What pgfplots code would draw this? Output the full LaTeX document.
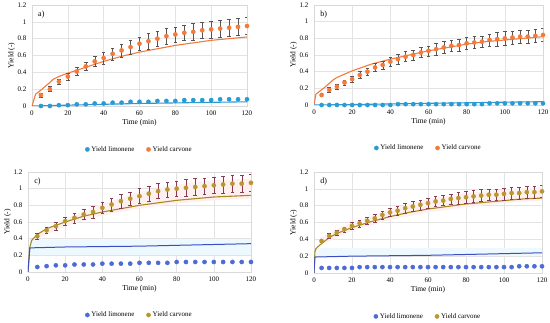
\documentclass[border=0pt]{standalone}
\usepackage{pgfplots}
\pgfplotsset{compat=1.18}
\usepackage{pgfplotstable}
\usepackage{fontspec}
\setmainfont{Liberation Serif}
\definecolor{corange}{HTML}{F47A3C}
\definecolor{cblue}{HTML}{2A9AD4}
\definecolor{cblue2}{HTML}{4C6BD6}
\definecolor{cline2}{HTML}{3A4EC2}
\definecolor{colive}{HTML}{B8972E}
\definecolor{colivel}{HTML}{A8891E}
\definecolor{cmaroon}{HTML}{8A3A55}
\definecolor{cgrayerr}{HTML}{555555}

\pgfplotstableread{
x y e
5 0.13 0.02
10 0.20 0.03
15 0.29 0.03
20 0.35 0.04
25 0.41 0.05
30 0.47 0.05
35 0.53 0.06
40 0.57 0.07
45 0.62 0.07
50 0.66 0.08
55 0.70 0.08
60 0.74 0.08
65 0.77 0.09
70 0.80 0.09
75 0.83 0.09
80 0.85 0.09
85 0.87 0.09
90 0.88 0.10
95 0.90 0.10
100 0.91 0.10
105 0.92 0.10
110 0.93 0.10
115 0.94 0.10
120 0.95 0.10
}\carvA
\pgfplotstableread{
x y
5 0.00
10 0.00
15 0.01
20 0.01
25 0.02
30 0.02
35 0.03
40 0.03
45 0.04
50 0.04
55 0.05
60 0.05
65 0.05
70 0.06
75 0.06
80 0.06
85 0.07
90 0.07
95 0.07
100 0.07
105 0.08
110 0.08
115 0.08
120 0.08
}\limA
\pgfplotstableread{
x y e
4 0.12 0.02
8 0.18 0.03
12 0.22 0.03
16 0.27 0.03
20 0.31 0.04
24 0.36 0.04
28 0.40 0.04
32 0.45 0.05
36 0.48 0.05
40 0.52 0.05
44 0.55 0.06
48 0.58 0.06
52 0.60 0.06
56 0.63 0.06
60 0.65 0.06
64 0.67 0.07
68 0.69 0.07
72 0.71 0.07
76 0.72 0.07
80 0.74 0.07
84 0.75 0.07
88 0.76 0.07
92 0.78 0.07
96 0.79 0.08
100 0.80 0.08
104 0.81 0.08
108 0.82 0.08
112 0.82 0.08
116 0.83 0.08
120 0.84 0.08
}\carvB
\pgfplotstableread{
x y
4 0.00
8 0.00
12 0.00
16 0.00
20 0.00
24 0.00
28 0.00
32 0.00
36 0.00
40 0.00
44 0.01
48 0.01
52 0.01
56 0.01
60 0.01
64 0.01
68 0.01
72 0.01
76 0.01
80 0.01
84 0.01
88 0.01
92 0.02
96 0.02
100 0.02
104 0.02
108 0.02
112 0.02
116 0.02
120 0.02
}\limB
\pgfplotstableread{
x y e
5 0.43 0.04
10 0.50 0.04
15 0.55 0.05
20 0.61 0.05
25 0.65 0.06
30 0.69 0.06
35 0.72 0.07
40 0.77 0.07
45 0.81 0.08
50 0.85 0.08
55 0.88 0.08
60 0.91 0.09
65 0.94 0.09
70 0.97 0.09
75 0.99 0.09
80 1.00 0.09
85 1.01 0.10
90 1.02 0.10
95 1.03 0.10
100 1.04 0.10
105 1.05 0.10
110 1.06 0.10
115 1.06 0.10
120 1.07 0.10
}\carvC
\pgfplotstableread{
x y
5 0.06
10 0.07
15 0.08
20 0.08
25 0.09
30 0.09
35 0.09
40 0.10
45 0.10
50 0.10
55 0.10
60 0.11
65 0.11
70 0.11
75 0.11
80 0.12
85 0.12
90 0.12
95 0.12
100 0.12
105 0.12
110 0.12
115 0.12
120 0.12
}\limC
\pgfplotstableread{
x y e
4 0.38 0.02
8 0.44 0.03
12 0.48 0.03
16 0.52 0.03
20 0.56 0.04
24 0.59 0.04
28 0.62 0.04
32 0.65 0.05
36 0.69 0.05
40 0.72 0.05
44 0.74 0.05
48 0.77 0.06
52 0.79 0.06
56 0.81 0.06
60 0.83 0.06
64 0.85 0.06
68 0.86 0.06
72 0.88 0.06
76 0.89 0.07
80 0.90 0.07
84 0.91 0.07
88 0.92 0.07
92 0.93 0.07
96 0.93 0.07
100 0.94 0.07
104 0.95 0.07
108 0.95 0.07
112 0.96 0.07
116 0.96 0.07
120 0.97 0.07
}\carvD
\pgfplotstableread{
x y
4 0.06
8 0.06
12 0.06
16 0.06
20 0.06
24 0.07
28 0.07
32 0.07
36 0.07
40 0.07
44 0.07
48 0.07
52 0.07
56 0.07
60 0.07
64 0.07
68 0.07
72 0.07
76 0.07
80 0.07
84 0.07
88 0.07
92 0.07
96 0.07
100 0.07
104 0.07
108 0.08
112 0.08
116 0.08
120 0.08
}\limD

\pgfplotsset{
 panel/.style={
  scale only axis, xmin=0, xmax=120, ymin=0, ymax=1.2,
  xtick={0,20,...,120}, ytick={0,0.2,...,1.2},
  grid=major, grid style={gray!22, line width=0.5pt},
  axis line style={gray!30}, major tick length=0pt,
  tick label style={font=\fontsize{7}{8}\selectfont},
  /pgf/number format/assume math mode=true,
  yticklabel style={/pgf/number format/fixed},
  xlabel={Time (min)}, ylabel={Yield (-)},
  label style={font=\fontsize{7.5}{9}\selectfont},
  xlabel style={yshift=3pt}, ylabel style={yshift=-4pt},
  xticklabel style={yshift=-1pt}, yticklabel style={xshift=-2pt},
  legend columns=2,
  legend style={draw=none, fill=none, font=\fontsize{7}{8}\selectfont, at={(0.5,-0.43)}, anchor=center,
    /tikz/every even column/.append style={column sep=10pt}},
  legend cell align=left,
  clip=true,
 },
 mkA/.style={only marks, mark=*, mark size=2.1pt, mark options={draw=#1, fill=#1}},
 errA/.style={error bars/.cd, y dir=both, y explicit, error bar style={#1, line width=0.4pt}, error mark options={#1, mark size=1.8pt, line width=0.4pt, rotate=90}},
}

\begin{document}
\begin{tikzpicture}
\path[use as bounding box] (0pt,0pt) rectangle (550pt,323pt);

% ---- a)
\begin{axis}[panel, at={(32pt,217pt)}, anchor=south west, width=215pt, height=101pt]
\addplot[corange, line width=1.1pt, forget plot] coordinates {(0,0)(2,0.14)(5,0.19)(10,0.28)(12,0.32)(15,0.35)(20,0.39)(30,0.46)(40,0.53)(50,0.59)(60,0.64)(70,0.68)(80,0.72)(90,0.75)(100,0.78)(110,0.80)(120,0.82)};
\addplot[cblue, line width=1.1pt, forget plot] coordinates {(0,0)(20,0.01)(60,0.03)(120,0.05)};
\addplot[mkA=cblue] table[x=x,y=y] {\limA};
\addlegendentry{Yield limonene}
\addplot[mkA=corange, errA=cgrayerr] table[x=x,y=y,y error=e] {\carvA};
\addlegendentry{Yield carvone}
\node[anchor=north west, font=\fontsize{8}{9}\selectfont] at (axis cs:1.5,1.17) {a)};
\end{axis}

% ---- b)
\begin{axis}[panel, at={(314pt,218pt)}, anchor=south west, width=229pt, height=100pt]
\addplot[corange, line width=1.1pt, forget plot] coordinates {(0,0)(1,0.13)(5,0.2)(10,0.3)(12,0.33)(20,0.41)(30,0.49)(40,0.55)(50,0.6)(60,0.65)(70,0.69)(80,0.73)(90,0.76)(100,0.78)(110,0.80)(120,0.82)};
\addplot[cblue, line width=1.1pt, forget plot] coordinates {(0,0)(20,0.005)(60,0.02)(120,0.04)};
\addplot[mkA=cblue] table[x=x,y=y] {\limB};
\addlegendentry{Yield limonene}
\addplot[mkA=corange, errA=cgrayerr] table[x=x,y=y,y error=e] {\carvB};
\addlegendentry{Yield carvone}
\node[anchor=north west, font=\fontsize{8}{9}\selectfont] at (axis cs:1.5,1.17) {b)};
\end{axis}

% ---- c)
\begin{axis}[panel, at={(28pt,51pt)}, anchor=south west, width=223pt, height=100pt]
\addplot[fill=cyan!7, draw=none, forget plot] coordinates {(1,0.2)(120,0.2)(120,0.4)(1,0.4)} -- cycle;
\addplot[fill=red!6, draw=none, forget plot] coordinates {(3,0.38)(20,0.55)(40,0.68)(60,0.76)(80,0.82)(100,0.86)(120,0.88)(120,1.12)(100,1.1)(80,1.05)(60,0.96)(40,0.82)(20,0.64)(5,0.47)} -- cycle;
\addplot[colivel, line width=1.1pt, forget plot] coordinates {(0,0)(1,0.3)(2,0.38)(5,0.45)(10,0.52)(20,0.6)(30,0.67)(40,0.72)(50,0.76)(60,0.8)(70,0.83)(80,0.86)(90,0.88)(100,0.9)(110,0.91)(120,0.92)};
\addplot[cline2, line width=1pt, forget plot] coordinates {(0,0)(1,0.29)(2,0.29)(20,0.30)(60,0.31)(120,0.34)};
\addplot[mkA=cblue2] table[x=x,y=y] {\limC};
\addlegendentry{Yield limonene}
\addplot[mkA=colive, errA=cmaroon] table[x=x,y=y,y error=e] {\carvC};
\addlegendentry{Yield carvone}
\node[anchor=north west, font=\fontsize{8}{9}\selectfont] at (axis cs:1.5,1.17) {c)};
\end{axis}

% ---- d)
\begin{axis}[panel, at={(314pt,50pt)}, anchor=south west, width=228pt, height=101pt]
\addplot[fill=cyan!7, draw=none, forget plot] coordinates {(1,0.2)(120,0.2)(120,0.3)(1,0.3)} -- cycle;
\addplot[fill=red!6, draw=none, forget plot] coordinates {(3,0.33)(20,0.5)(40,0.63)(60,0.72)(80,0.78)(100,0.83)(120,0.86)(120,1.02)(100,0.99)(80,0.95)(60,0.88)(40,0.76)(20,0.6)(3,0.42)} -- cycle;
\addplot[colivel, line width=1.1pt, forget plot] coordinates {(0,0)(0.5,0.25)(1,0.29)(4,0.35)(8,0.42)(12,0.47)(20,0.54)(30,0.61)(40,0.67)(50,0.72)(60,0.76)(70,0.79)(80,0.82)(90,0.84)(100,0.86)(110,0.88)(120,0.89)};
\addplot[cline2, line width=1pt, forget plot] coordinates {(0,0)(0.5,0.19)(1,0.19)(20,0.2)(60,0.21)(120,0.24)};
\addplot[mkA=cblue2] table[x=x,y=y] {\limD};
\addlegendentry{Yield limonene}
\addplot[mkA=colive, errA=cmaroon] table[x=x,y=y,y error=e] {\carvD};
\addlegendentry{Yield carvone}
\node[anchor=north west, font=\fontsize{8}{9}\selectfont] at (axis cs:1.5,1.17) {d)};
\end{axis}
\end{tikzpicture}
\end{document}
